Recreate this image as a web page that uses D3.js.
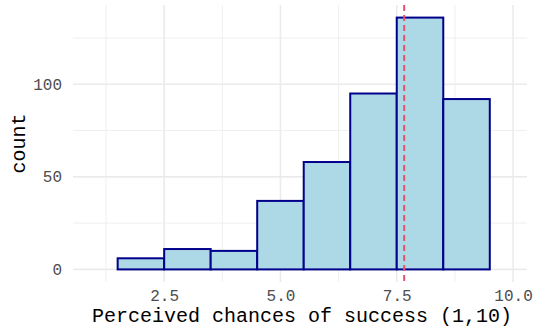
<!DOCTYPE html>
<html>
<head>
<meta charset="utf-8">
<script src="https://cdn.jsdelivr.net/npm/d3@7"></script>
<style>
  body { margin: 0; background: #fff; }
  text { font-family: "Courier New", "Liberation Mono", monospace; }
</style>
</head>
<body>
<script>
var width = 533;
var height = 332;

// histogram bins (binwidth 1), counts
var binStart = [1.5, 2.5, 3.5, 4.5, 5.5, 6.5, 7.5, 8.5];
var counts   = [6, 11, 10, 37, 58, 95, 136, 92];
var meanValue = 7.66;

var xTicks = [2.5, 5.0, 7.5, 10.0];
var xMinor = [1.25, 3.75, 6.25, 8.75];
var yTicks = [0, 50, 100];
var yMinor = [25, 75, 125];

var panel = {left: 73, right: 527, top: 5, bottom: 282};

var svg = d3.select("body").append("svg")
  .attr("width", width)
  .attr("height", height);

var xScale = d3.scaleLinear()
  .domain([0.54, 10.3])
  .range([panel.left, panel.right]);

var yScale = d3.scaleLinear()
  .domain([-6.8, 142.8])
  .range([panel.bottom, panel.top]);

// grid
var grid = svg.append("g");
grid.selectAll(".xminor").data(xMinor).enter().append("line")
  .attr("x1", function(d){ return xScale(d); })
  .attr("x2", function(d){ return xScale(d); })
  .attr("y1", panel.top).attr("y2", panel.bottom)
  .attr("stroke", "#ebebeb").attr("stroke-width", 0.8);
grid.selectAll(".yminor").data(yMinor).enter().append("line")
  .attr("y1", function(d){ return yScale(d); })
  .attr("y2", function(d){ return yScale(d); })
  .attr("x1", panel.left).attr("x2", panel.right)
  .attr("stroke", "#ebebeb").attr("stroke-width", 0.8);
grid.selectAll(".xmajor").data(xTicks).enter().append("line")
  .attr("x1", function(d){ return xScale(d); })
  .attr("x2", function(d){ return xScale(d); })
  .attr("y1", panel.top).attr("y2", panel.bottom)
  .attr("stroke", "#ebebeb").attr("stroke-width", 1.6);
grid.selectAll(".ymajor").data(yTicks).enter().append("line")
  .attr("y1", function(d){ return yScale(d); })
  .attr("y2", function(d){ return yScale(d); })
  .attr("x1", panel.left).attr("x2", panel.right)
  .attr("stroke", "#ebebeb").attr("stroke-width", 1.6);

// bars
svg.selectAll("rect")
  .data(counts)
  .enter()
  .append("rect")
  .attr("x", function(d, i){ return xScale(binStart[i]); })
  .attr("width", function(d, i){ return xScale(binStart[i] + 1) - xScale(binStart[i]); })
  .attr("y", function(d){ return yScale(d); })
  .attr("height", function(d){ return yScale(0) - yScale(d); })
  .attr("fill", "#add8e6")
  .attr("stroke", "#00008b")
  .attr("stroke-width", 2);

// mean line
svg.append("line")
  .attr("x1", xScale(meanValue)).attr("x2", xScale(meanValue))
  .attr("y1", panel.top).attr("y2", panel.bottom)
  .attr("stroke", "#e4526e")
  .attr("stroke-width", 2)
  .attr("stroke-dasharray", "6,4");

// axes (no lines, just labels)
var xAxis = svg.append("g")
  .attr("transform", "translate(0," + panel.bottom + ")")
  .call(d3.axisBottom(xScale).tickValues(xTicks).tickFormat(d3.format(".1f")).tickSize(0).tickPadding(8));
var yAxis = svg.append("g")
  .attr("transform", "translate(" + panel.left + ",0)")
  .call(d3.axisLeft(yScale).tickValues(yTicks).tickSize(0).tickPadding(11));
[xAxis, yAxis].forEach(function(a){
  a.select(".domain").remove();
  a.selectAll("text")
    .attr("fill", "#4d4d4d")
    .style("font-size", "16px")
    .style("font-family", "'Courier New', 'Liberation Mono', monospace");
});

svg.append("text")
  .attr("x", 302)
  .attr("y", 322)
  .attr("text-anchor", "middle")
  .style("font-size", "20px")
  .text("Perceived chances of success (1,10)");

svg.append("text")
  .attr("transform", "translate(25," + ((panel.top + panel.bottom) / 2) + ") rotate(-90)")
  .attr("text-anchor", "middle")
  .style("font-size", "20px")
  .text("count");
</script>
</body>
</html>
